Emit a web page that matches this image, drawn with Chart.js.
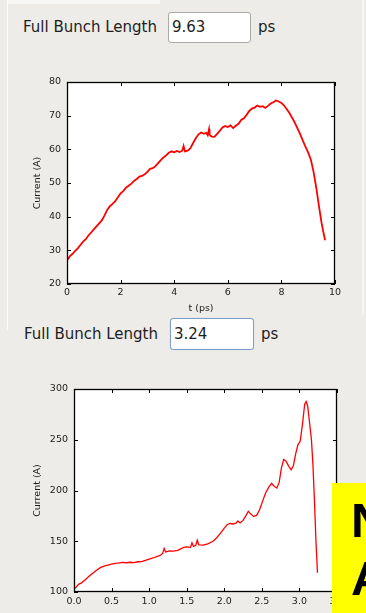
<!DOCTYPE html>
<html>
<head>
<meta charset="utf-8">
<script src="https://cdn.jsdelivr.net/npm/chart.js@4.4.0/dist/chart.umd.min.js"></script>
<style>
  html, body { margin: 0; padding: 0; }
  body { width: 366px; height: 613px; overflow: hidden; position: relative; background: #edece9; font-family: "DejaVu Sans", sans-serif; color: #1e1e1e; }
  .abs { position: absolute; }
  .lbl { font-size: 15px; line-height: 18px; white-space: nowrap; }
  .field { box-sizing: border-box; background: #fff; border: 1px solid #a9a9a7; border-radius: 3px; font-size: 15px; padding-left: 3px; }
  .field.focus { border-color: #7f9fc9; box-shadow: 0 0 1px #a9c1e0; }
  canvas { position: absolute; left: 0; }
  .note { background: #ffff00; overflow: hidden; font-family: "Liberation Sans", Arial, sans-serif; font-weight: bold; font-size: 49px; line-height: 58px; color: #000; padding-left: 19px; box-sizing: border-box; padding-top: 8px; }
</style>
</head>
<body>
<div class="abs" style="left:8px;top:0;width:152px;height:4px;background:#f7f7f6"></div>
<div class="abs" style="left:7px;top:0;width:1px;height:330px;background:#fbfbfa"></div>
<div class="abs" style="left:362px;top:0;width:2px;height:315px;background:#f6f6f5"></div>

<div class="abs lbl" style="left:23px;top:18px">Full Bunch Length</div>
<div class="abs field" style="left:168px;top:12px;width:83px;height:31px;line-height:29px">9.63</div>
<div class="abs lbl" style="left:258px;top:18px">ps</div>

<div class="abs lbl" style="left:24px;top:325px">Full Bunch Length</div>
<div class="abs field focus" style="left:170px;top:318px;width:84px;height:32px;line-height:30px">3.24</div>
<div class="abs lbl" style="left:261px;top:325px">ps</div>

<canvas id="longChart" width="366" height="260" style="top:60px"></canvas>
<canvas id="shortChart" width="366" height="270" style="top:370px"></canvas>

<div class="abs note" style="left:332px;top:483px;width:34px;height:130px">N<br>A</div>

<script>
// current profile, 9.63 ps bunch
var longT = [0.00, 0.05, 0.10, 0.20, 0.30, 0.40, 0.50, 0.60, 0.70, 0.80, 0.90, 1.00, 1.10, 1.20, 1.30, 1.40,
    1.50, 1.60, 1.70, 1.80, 1.90, 2.00, 2.10, 2.20, 2.30, 2.40, 2.50, 2.60, 2.70, 2.80, 2.90, 3.00, 3.10,
    3.20, 3.30, 3.40, 3.50, 3.60, 3.70, 3.80, 3.90, 4.00, 4.10, 4.20, 4.30, 4.35, 4.40, 4.50, 4.60, 4.70,
    4.80, 4.90, 5.00, 5.10, 5.20, 5.25, 5.30, 5.32, 5.40, 5.50, 5.60, 5.70, 5.80, 5.90, 6.00, 6.10, 6.20,
    6.30, 6.40, 6.50, 6.60, 6.70, 6.80, 6.90, 7.00, 7.10, 7.20, 7.30, 7.40, 7.50, 7.60, 7.70, 7.80, 7.90,
    8.00, 8.10, 8.20, 8.30, 8.40, 8.50, 8.60, 8.70, 8.80, 8.90, 9.00, 9.10, 9.20, 9.30, 9.40, 9.50, 9.55, 9.63];
var longI = [27.0, 27.6, 28.2, 28.9, 29.8, 30.6, 31.6, 32.6, 33.3, 34.4, 35.3, 36.2, 37.1, 38.0, 38.9, 40.4,
    42.0, 43.1, 43.8, 44.6, 45.8, 46.9, 47.6, 48.6, 49.2, 49.8, 50.6, 51.2, 51.9, 52.1, 52.6, 53.3, 54.2,
    54.4, 55.0, 55.9, 56.8, 57.6, 58.2, 59.0, 59.4, 59.1, 59.5, 59.2, 59.6, 61.0, 59.4, 59.6, 60.3, 61.8,
    63.2, 64.4, 65.0, 64.6, 64.9, 64.2, 66.0, 64.3, 63.8, 63.7, 64.6, 65.5, 66.5, 66.9, 66.6, 67.1, 66.3,
    67.0, 67.6, 68.7, 69.2, 70.2, 71.4, 72.1, 72.4, 73.0, 72.6, 72.8, 72.3, 72.9, 73.6, 74.0, 74.5, 74.2,
    73.8, 73.0, 71.9, 70.8, 69.4, 67.9, 66.2, 64.5, 62.6, 60.7, 59.0, 56.9, 53.3, 48.6, 43.2, 38.1, 36.0, 33.0];

// current profile, 3.24 ps bunch
var shortT = [0.00, 0.03, 0.06, 0.10, 0.15, 0.20, 0.25, 0.30, 0.35, 0.40, 0.45, 0.50, 0.55, 0.60, 0.65,
    0.70, 0.75, 0.80, 0.85, 0.90, 0.95, 1.00, 1.05, 1.10, 1.15, 1.18, 1.20, 1.22, 1.27, 1.32, 1.38, 1.42,
    1.46, 1.50, 1.55, 1.57, 1.59, 1.62, 1.64, 1.66, 1.72, 1.78, 1.85, 1.90, 1.95, 2.00, 2.04, 2.08, 2.12,
    2.16, 2.18, 2.21, 2.25, 2.29, 2.32, 2.35, 2.39, 2.43, 2.47, 2.51, 2.55, 2.59, 2.63, 2.66, 2.70, 2.73,
    2.76, 2.79, 2.82, 2.86, 2.89, 2.92, 2.95, 2.98, 3.01, 3.04, 3.07, 3.09, 3.11, 3.13, 3.16, 3.18, 3.20,
    3.22, 3.24];
var shortI = [103.0, 105.0, 107.5, 109.0, 112.0, 115.5, 118.5, 121.5, 124.0, 125.5, 126.5, 127.5, 128.3,
    128.6, 129.2, 128.8, 129.3, 129.0, 129.8, 130.0, 131.2, 132.5, 133.5, 134.8, 136.2, 138.0, 143.0,
    139.5, 140.5, 140.2, 141.0, 142.5, 144.0, 144.5, 144.0, 148.5, 145.0, 146.0, 151.0, 146.5, 146.2,
    147.5, 150.0, 153.5, 158.0, 163.0, 166.5, 167.5, 167.0, 168.0, 170.0, 168.0, 170.5, 175.5, 179.5,
    177.0, 174.5, 175.5, 181.0, 189.5, 197.5, 203.0, 207.0, 204.5, 202.5, 208.0, 222.0, 230.5, 229.0,
    223.5, 220.5, 224.5, 236.0, 245.0, 248.5, 265.0, 285.0, 287.5, 283.0, 270.0, 250.0, 225.0, 190.0,
    150.0, 119.0];

var textColor = '#1c1c1c';
var tickFont = { family: 'DejaVu Sans', size: 9.5 };

// white plot background, black frame and inward ticks on all four sides
var plotFrame = {
    id: 'plotFrame',
    beforeDatasetsDraw: function (chart) {
        var a = chart.chartArea, ctx = chart.ctx;
        ctx.save();
        ctx.fillStyle = '#fff';
        ctx.fillRect(a.left, a.top, a.right - a.left, a.bottom - a.top);
        ctx.restore();
    },
    afterDatasetsDraw: function (chart) {
        var a = chart.chartArea, ctx = chart.ctx;
        var xs = chart.scales.x, ys = chart.scales.y;
        ctx.save();
        ctx.strokeStyle = '#000';
        ctx.lineWidth = 1;
        ctx.beginPath();
        xs.ticks.forEach(function (t) {
            var px = Math.round(xs.getPixelForValue(t.value)) + 0.5;
            ctx.moveTo(px, a.bottom); ctx.lineTo(px, a.bottom - 4);
            ctx.moveTo(px, a.top); ctx.lineTo(px, a.top + 4);
        });
        ys.ticks.forEach(function (t) {
            var py = Math.round(ys.getPixelForValue(t.value)) + 0.5;
            ctx.moveTo(a.left, py); ctx.lineTo(a.left + 4, py);
            ctx.moveTo(a.right, py); ctx.lineTo(a.right - 4, py);
        });
        ctx.stroke();
        ctx.lineWidth = 1.3;
        ctx.strokeRect(Math.round(a.left) + 0.5, Math.round(a.top) + 0.5,
            Math.round(a.right - a.left) - 1, Math.round(a.bottom - a.top) - 1);
        ctx.restore();
    }
};

function makeChart(id, ts, vals, o) {
    var pts = [];
    for (var i = 0; i < ts.length; i++) pts.push({ x: ts[i], y: vals[i] });
    return new Chart(document.getElementById(id), {
        type: 'line',
        data: {
            datasets: [{
                data: pts,
                borderColor: '#ff0000',
                borderWidth: o.lineWidth,
                pointRadius: 0,
                tension: 0,
                fill: false
            }]
        },
        options: {
            responsive: false,
            animation: false,
            layout: { padding: { top: o.padTop, right: o.padRight, left: 0, bottom: 0 } },
            plugins: { legend: { display: false }, tooltip: { enabled: false } },
            scales: {
                x: {
                    type: 'linear', min: o.xMin, max: o.xMax,
                    afterFit: function (s) { s.height = o.xHeight; },
                    grid: { display: false, drawTicks: false },
                    border: { display: false },
                    ticks: {
                        stepSize: o.xStep, padding: o.xPad, color: textColor, font: tickFont,
                        maxRotation: 0, autoSkip: false,
                        callback: function (v) { return o.xFmt(v); }
                    },
                    title: { display: true, text: 't (ps)', color: textColor, font: tickFont, padding: { top: 0, bottom: o.xTitlePad } }
                },
                y: {
                    type: 'linear', min: o.yMin, max: o.yMax,
                    afterFit: function (s) { s.width = o.yWidth; },
                    grid: { display: false, drawTicks: false },
                    border: { display: false },
                    ticks: { stepSize: o.yStep, padding: 6, color: textColor, font: tickFont },
                    title: { display: true, text: 'Current (A)', color: textColor, font: tickFont, padding: { top: 32, bottom: 0 } }
                }
            }
        },
        plugins: [plotFrame]
    });
}

makeChart('longChart', longT, longI, {
    lineWidth: 1.8, padTop: 22, padRight: 31, xHeight: 36, yWidth: 67,
    xMin: 0, xMax: 10, xStep: 2, yMin: 20, yMax: 80, yStep: 10,
    xPad: 3, xTitlePad: 6,
    xFmt: function (v) { return String(v); }
});

makeChart('shortChart', shortT, shortI, {
    lineWidth: 1.3, padTop: 19, padRight: 29, xHeight: 48, yWidth: 74,
    xMin: 0, xMax: 3.5, xStep: 0.5, yMin: 100, yMax: 300, yStep: 50,
    xPad: 4, xTitlePad: 8,
    xFmt: function (v) { return v.toFixed(1); }
});
</script>
</body>
</html>
